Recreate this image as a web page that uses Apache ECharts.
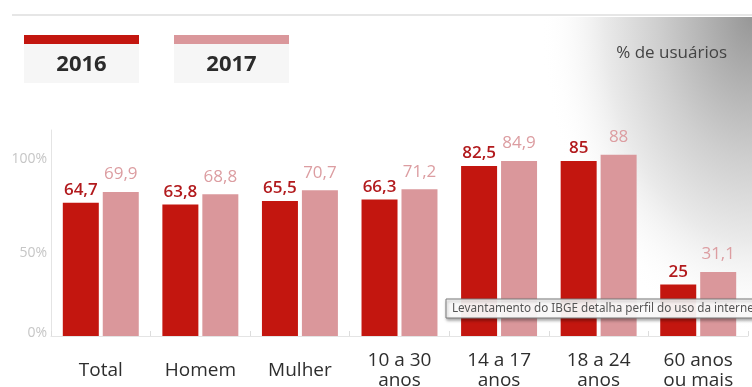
<!DOCTYPE html>
<html>
<head>
<meta charset="utf-8">
<script src="https://cdn.jsdelivr.net/npm/echarts@6/dist/echarts.min.js"></script>
<style>
  html, body { margin: 0; padding: 0; background: #ffffff; }
  #chart { width: 752px; height: 387px; }
</style>
</head>
<body>
<div id="chart"></div>
<script>
// Internet users by group, share of population (%)
const categories = ['Total', 'Homem', 'Mulher', '10 a 30\nanos', '14 a 17\nanos', '18 a 24\nanos', '60 anos\nou mais'];
const seriesNames = ['2016', '2017'];
const values2016 = [64.7, 63.8, 65.5, 66.3, 82.5, 85, 25];
const values2017 = [69.9, 68.8, 70.7, 71.2, 84.9, 88, 31.1];
const yTickLabels = ['0%', '50%', '100%'];
const unitLabel = '% de usuários';
const pageTitle = 'Levantamento do IBGE detalha perfil do uso da internet';

const DARK = '#c3160f';
const LIGHT = '#da979b';
const FONT = '"Open Sans", "Noto Sans", sans-serif';

// anchor values on the value axis where the percentage captions sit
const tickAnchors = [1.5, 40.4, 85.9];

const fmt = v => String(v).replace('.', ',');

const chart = echarts.init(document.getElementById('chart'), null, { renderer: 'canvas' });

function legendBlock(x, color, text) {
  return [
    { type: 'rect', z: 1, shape: { x: x, y: 44, width: 115, height: 39 }, style: { fill: '#f6f6f6' } },
    { type: 'rect', z: 2, shape: { x: x, y: 35, width: 115, height: 9 }, style: { fill: color } },
    { type: 'text', z: 3, x: x + 57.5, y: 65, style: {
        text: text, fill: '#2b2b2b', font: 'bold 22px ' + FONT, align: 'center', verticalAlign: 'middle'
    } }
  ];
}

const option = {
  backgroundColor: '#ffffff',
  animation: false,
  grid: { left: 51, right: 4, top: 130, bottom: 51, containLabel: false, outerBoundsMode: 'none' },
  graphic: [
    // soft grey shading in the upper-right corner
    { type: 'rect', z: -5, x: 752, y: 17, originX: 0, originY: 0, scaleX: 0.66,
      shape: { x: -320, y: 0, width: 320, height: 320 },
      style: { fill: new echarts.graphic.RadialGradient(1, 0, 1, [
        { offset: 0, color: '#979797' },
        { offset: 0.2, color: '#b0b0b0' },
        { offset: 0.45, color: '#cfcfcf' },
        { offset: 0.7, color: '#eaeaea' },
        { offset: 1, color: 'rgba(255,255,255,0)' }
      ]) } },
    // thin rule at the top
    { type: 'rect', z: 1, shape: { x: 12, y: 14, width: 740, height: 2 }, style: { fill: '#e6e6e6' } },
    ...legendBlock(24, DARK, seriesNames[0]),
    ...legendBlock(174, LIGHT, seriesNames[1]),
    { type: 'text', z: 3, x: 727, y: 53, style: {
        text: unitLabel, fill: '#444444', font: '17px ' + FONT, align: 'right', verticalAlign: 'middle'
    } },
    // hover caption box
    { type: 'rect', z: 20, shape: { x: 446, y: 299, width: 320, height: 19 },
      style: { fill: 'rgba(255,255,255,0.93)', stroke: '#7a7a7a', lineWidth: 1,
               shadowColor: 'rgba(0,0,0,0.35)', shadowBlur: 3, shadowOffsetX: 1, shadowOffsetY: 2 } },
    { type: 'text', z: 21, x: 452, y: 309, style: {
        text: pageTitle, fill: '#555555', font: '11.7px "Noto Sans", sans-serif', align: 'left', verticalAlign: 'middle'
    } }
  ],
  xAxis: {
    type: 'category',
    data: categories,
    axisLine: { show: true, lineStyle: { color: '#e4e4e4', width: 1 } },
    axisTick: { show: true, inside: true, length: 5, lineStyle: { color: '#dddddd' } },
    axisLabel: {
      color: '#2e2e2e', fontSize: 19, fontFamily: FONT, lineHeight: 20,
      verticalAlign: 'middle', margin: 35, interval: 0
    }
  },
  yAxis: {
    type: 'value', min: 0, max: 100,
    splitLine: { show: false },
    axisLine: { show: true, lineStyle: { color: '#e4e4e4', width: 1 } },
    axisTick: { show: false },
    axisLabel: {
      customValues: tickAnchors,
      formatter: v => yTickLabels[tickAnchors.indexOf(v)] || '',
      color: '#c6c6c6', fontSize: 14, fontFamily: FONT, margin: 4
    }
  },
  series: [
    {
      name: seriesNames[0], type: 'bar', data: values2016, barWidth: 36, barGap: '11%',
      itemStyle: { color: DARK },
      label: { show: true, position: 'top', distance: 4, formatter: p => fmt(p.value),
               color: '#b21a1d', fontSize: 17, fontWeight: 600, fontFamily: FONT }
    },
    {
      name: seriesNames[1], type: 'bar', data: values2017, barWidth: 36,
      itemStyle: { color: LIGHT },
      label: { show: true, position: 'top', distance: 9, formatter: p => fmt(p.value),
               color: '#dc9da1', fontSize: 17, fontFamily: FONT }
    }
  ]
};

chart.setOption(option);
</script>
</body>
</html>
